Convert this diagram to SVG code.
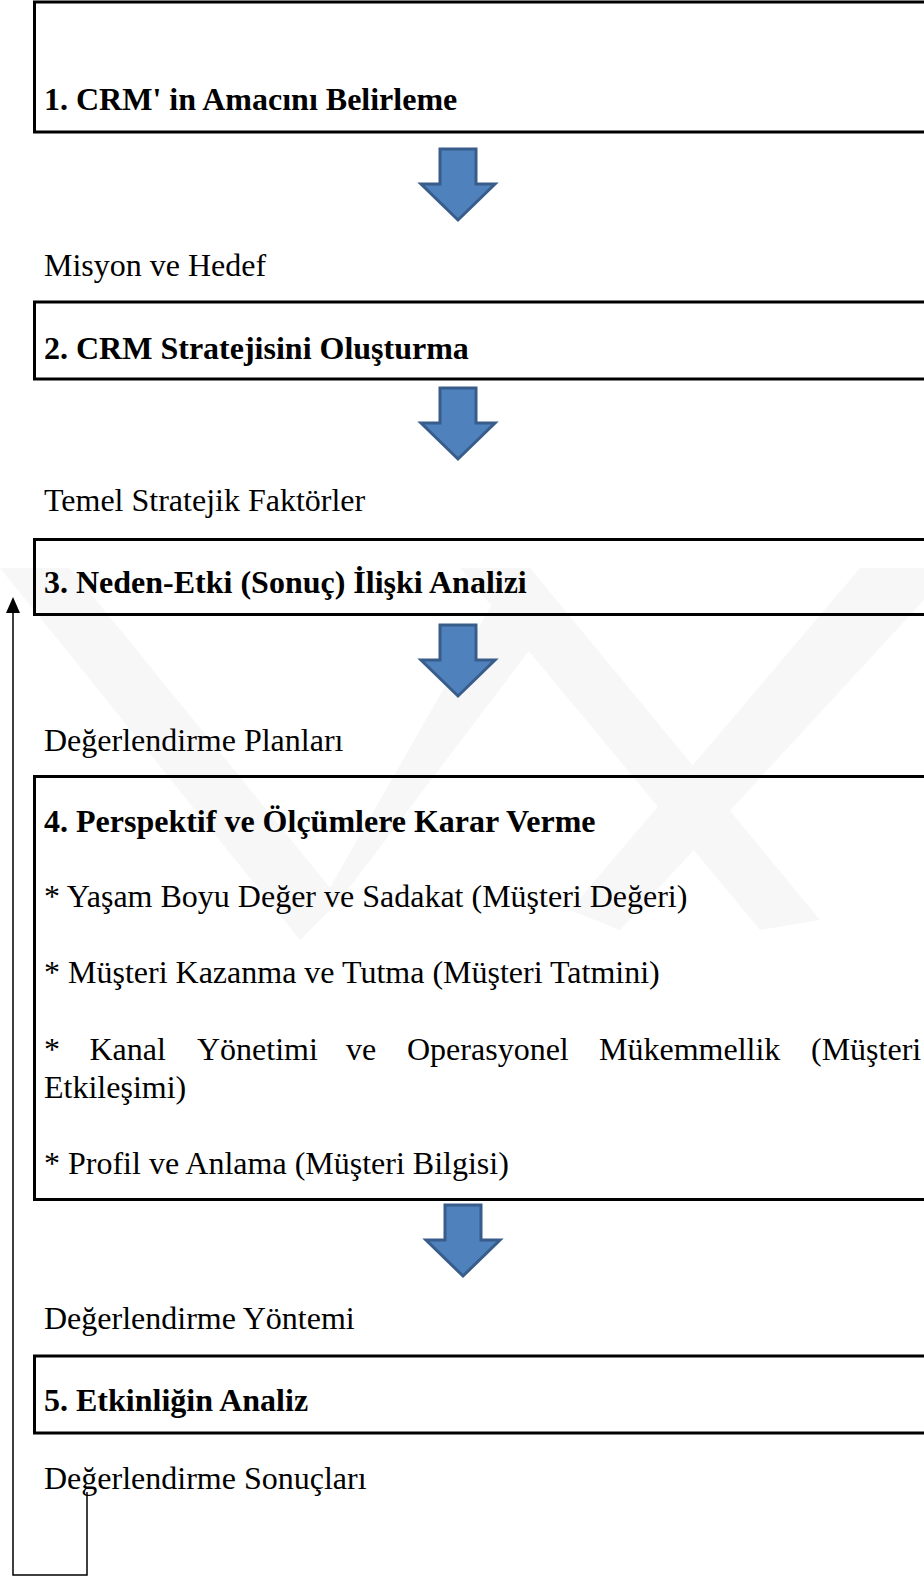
<svg xmlns="http://www.w3.org/2000/svg" xmlns:xlink="http://www.w3.org/1999/xlink" width="924" height="1577" viewBox="0 0 924 1577">
<style>
.box{fill:none;stroke:#000;stroke-width:3}
.b{font-family:"Liberation Serif","Times New Roman",serif;font-size:32px;font-weight:bold;fill:#000}
.r{font-family:"Liberation Serif","Times New Roman",serif;font-size:32px;fill:#000}
.blue{fill:#4F81BD;stroke:#385D8A;stroke-width:3;stroke-linejoin:miter}
.fb{fill:none;stroke:#000;stroke-width:1.5}
.wm{fill:#f7f7f7}
</style>
<defs>
<path id="darrow" d="M-18,0 L18,0 L18,35 L37,35 L0,71 L-37,35 L-18,35 Z"/>
</defs>
<rect width="924" height="1577" fill="#fff"/>
<g id="watermark">
<polygon class="wm" points="0,568 70,568 340,900 300,940"/>
<polygon class="wm" points="300,940 340,900 560,610 500,590"/>
<polygon class="wm" points="460,568 530,568 820,920 760,930"/>
<polygon class="wm" points="860,568 924,568 924,600 620,930 570,910"/>
</g>
<g id="node1"><rect class="box" x="34.5" y="2" width="900" height="130"/><text class="b" x="44" y="110">1. CRM' in Amacını Belirleme</text></g>
<g id="label1"><text class="r" x="44" y="276">Misyon ve Hedef</text></g>
<g id="node2"><rect class="box" x="34.5" y="302" width="900" height="77"/><text class="b" x="44" y="359">2. CRM Stratejisini Oluşturma</text></g>
<g id="label2"><text class="r" x="44" y="511">Temel Stratejik Faktörler</text></g>
<g id="node3"><rect class="box" x="34.5" y="539.5" width="900" height="75"/><text class="b" x="44" y="593">3. Neden-Etki (Sonuç) İlişki Analizi</text></g>
<g id="label3"><text class="r" x="44" y="751">Değerlendirme Planları</text></g>
<g id="node4"><rect class="box" x="34.5" y="776.5" width="900" height="423"/>
<text class="b" x="44" y="832">4. Perspektif ve Ölçümlere Karar Verme</text>
<text class="r" x="44" y="907">* Yaşam Boyu Değer ve Sadakat (Müşteri Değeri)</text>
<text class="r" x="44" y="983">* Müşteri Kazanma ve Tutma (Müşteri Tatmini)</text>
<text class="r" y="1060"><tspan x="44">*</tspan><tspan x="89.5">Kanal</tspan><tspan x="197">Yönetimi</tspan><tspan x="346">ve</tspan><tspan x="407">Operasyonel</tspan><tspan x="599">Mükemmellik</tspan><tspan x="811">(Müşteri</tspan></text>
<text class="r" x="44" y="1098">Etkileşimi)</text>
<text class="r" x="44" y="1174">* Profil ve Anlama (Müşteri Bilgisi)</text>
</g>
<g id="label4"><text class="r" x="44" y="1329">Değerlendirme Yöntemi</text></g>
<g id="node5"><rect class="box" x="34.5" y="1356" width="900" height="77"/><text class="b" x="44" y="1411">5. Etkinliğin Analiz</text></g>
<g id="label5"><text class="r" x="44" y="1489">Değerlendirme Sonuçları</text></g>
<g id="connectors">
<use xlink:href="#darrow" class="blue" transform="translate(458,149)"/>
<use xlink:href="#darrow" class="blue" transform="translate(458,388)"/>
<use xlink:href="#darrow" class="blue" transform="translate(458,625)"/>
<use xlink:href="#darrow" class="blue" transform="translate(463,1205)"/>
<path class="fb" d="M87,1492 L87,1575 L13,1575 L13,610"/>
<polygon points="13,597 6,613 20,613" fill="#000"/>
</g>
</svg>
